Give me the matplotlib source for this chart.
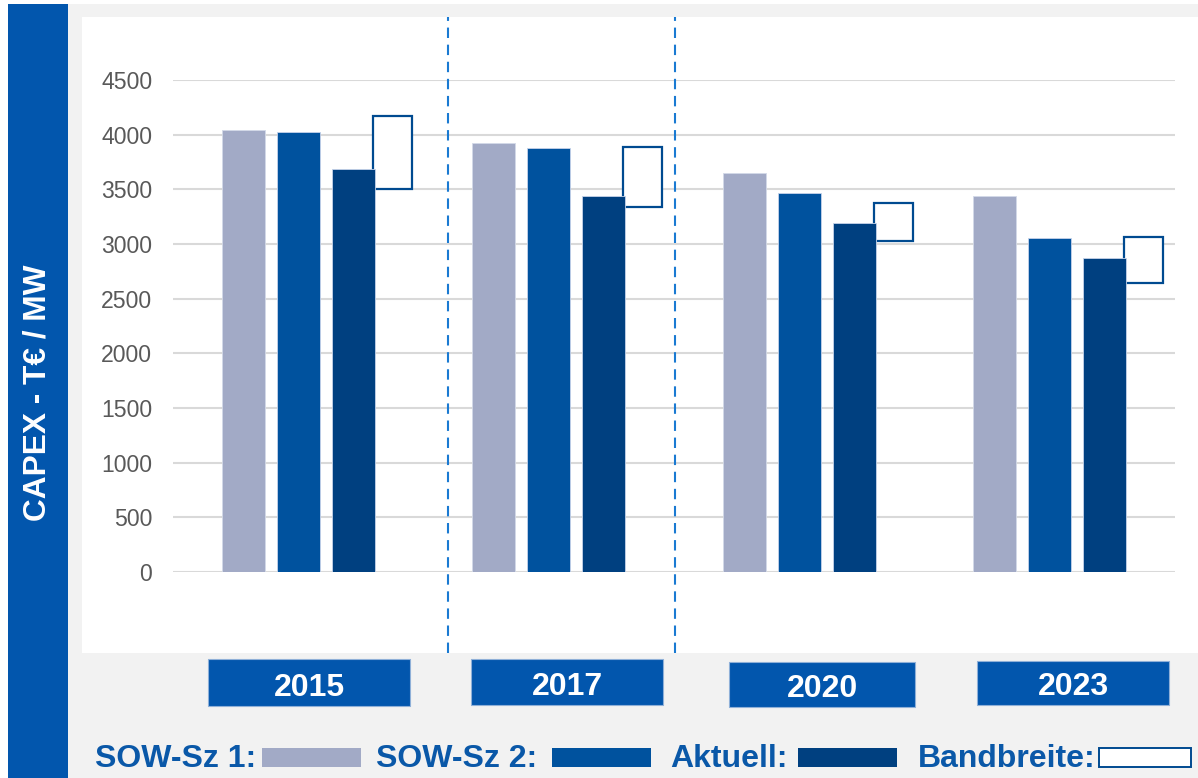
import matplotlib.pyplot as plt
from matplotlib.patches import Rectangle

plt.rcParams['font.family'] = ['Liberation Sans', 'DejaVu Sans']

# data
years = ['2015', '2017', '2020', '2023']
sow_sz1 = [4040, 3920, 3650, 3440]
sow_sz2 = [4020, 3880, 3465, 3055]
aktuell = [3690, 3440, 3190, 2870]
band_low = [3500, 3340, 3025, 2645]
band_high = [4170, 3890, 3375, 3060]
yticks = [0, 500, 1000, 1500, 2000, 2500, 3000, 3500, 4000, 4500]

c_sow1 = '#a2aac6'
c_sow2 = '#00529e'
c_akt = '#004080'
c_band = '#004a90'
c_blue = '#0256ad'
c_text = '#0a58a8'

W, H = 1198, 778


def fx(x):
    return x / W


def fy(y):
    return 1 - y / H


fig = plt.figure(figsize=(W / 100, H / 100), dpi=100)
fig.patch.set_facecolor('white')

# background panels
fig.add_artist(Rectangle((fx(68), 0), fx(W) - fx(68), fy(4), transform=fig.transFigure,
                         facecolor='#f2f2f2', edgecolor='none', zorder=-10))
fig.add_artist(Rectangle((fx(82), fy(653)), fx(W) - fx(82), fy(17) - fy(653),
                         transform=fig.transFigure, facecolor='white', edgecolor='none', zorder=-9))
fig.add_artist(Rectangle((fx(8), 0), fx(68) - fx(8), fy(4), transform=fig.transFigure,
                         facecolor=c_blue, edgecolor='none', zorder=-8))
fig.text(fx(38), fy(393), 'CAPEX - T€ / MW', rotation=90, color='white', fontsize=22.8,
         fontweight='bold', ha='center', va='center')

ax = fig.add_axes([fx(173), fy(572), fx(1175) - fx(173), fy(80) - fy(572)])
ax.set_facecolor('none')

x = list(range(len(years)))
bw = 0.172
step = 0.22
ax.bar([i - step for i in x], sow_sz1, bw, color=c_sow1, edgecolor='#d3d9e8', lw=0.6, zorder=2)
ax.bar(x, sow_sz2, bw, color=c_sow2, edgecolor='#c6d3ea', lw=0.6, zorder=2)
ax.bar([i + step for i in x], aktuell, bw, color=c_akt, edgecolor='#c6d3ea', lw=0.6, zorder=3)
ax.bar([i + 0.375 for i in x], [h - l for h, l in zip(band_high, band_low)], 0.155,
       bottom=band_low, facecolor='white', edgecolor=c_band, lw=1.6, zorder=2)

ax.set_xlim(-0.5, 3.5)
ax.set_ylim(0, 4500)
ax.set_yticks(yticks)
ax.set_xticks([])
ax.yaxis.grid(True, color='#d9d9d9', lw=1.5)
ax.set_axisbelow(True)
ax.tick_params(axis='y', length=0, pad=15, labelsize=16.6, labelcolor='#595959')
for s in ax.spines.values():
    s.set_visible(False)

# dashed separators
for xd in [0.597, 1.504]:
    ax.axvline(xd, ymin=-0.165, ymax=1.128, clip_on=False, color='#1a7ad2',
               lw=1.5, ls=(0, (5, 3.2)), zorder=1)

# year boxes (pixel layout: left, right, top, bottom)
boxes = [(208, 410, 659, 706), (471, 663, 659, 705), (729, 915, 662, 707), (977, 1169, 661, 705)]
for yr, (x0, x1, y0, y1) in zip(years, boxes):
    fig.add_artist(Rectangle((fx(x0), fy(y1)), fx(x1) - fx(x0), fy(y0) - fy(y1),
                             transform=fig.transFigure, facecolor=c_blue,
                             edgecolor='#8fb0d8', lw=0.8))
    fig.text(fx((x0 + x1) / 2), fy(y1 - 10), yr, color='white', fontsize=23,
             fontweight='bold', ha='center', va='baseline')

# legend
leg = [('SOW-Sz 1:', 95, 262, 361, c_sow1, c_sow1),
       ('SOW-Sz 2:', 376, 552, 651, c_sow2, c_sow2),
       ('Aktuell:', 670, 798, 897, c_akt, c_akt),
       ('Bandbreite:', 918, 1099, 1191, 'white', c_band)]
for label, tx, px0, px1, fc, ec in leg:
    fig.text(fx(tx), fy(767), label, color=c_text, fontsize=23, fontweight='bold',
             ha='left', va='baseline')
    fig.add_artist(Rectangle((fx(px0), fy(767)), fx(px1) - fx(px0), fy(748) - fy(767),
                             transform=fig.transFigure, facecolor=fc, edgecolor=ec,
                             lw=1.4 if fc == 'white' else 0))

fig.savefig('out.png', dpi=100)
